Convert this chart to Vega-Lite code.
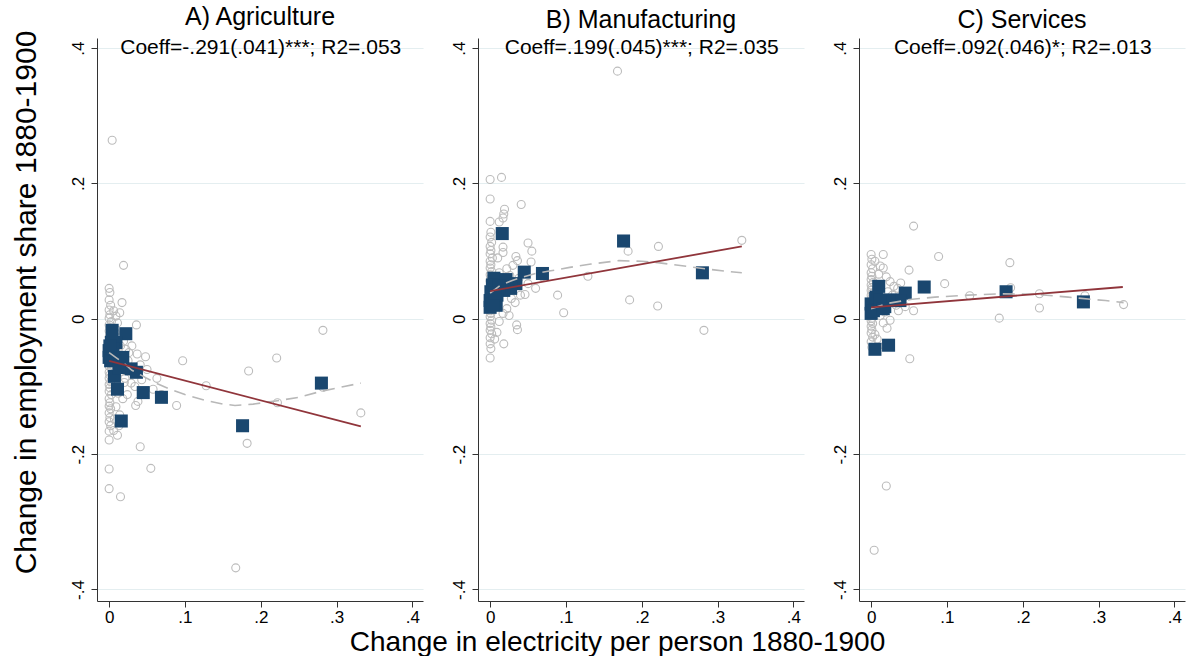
{
  "$schema": "https://vega.github.io/schema/vega-lite/v6.json",
  "padding": {"left": 10, "top": 5, "right": 2, "bottom": 0},
  "spacing": 55,
  "bounds": "flush",
  "datasets": {
    "obs": [
      {"sector":"A","x":0,"y":0.045},{"sector":"A","x":0.001,"y":0.039},{"sector":"A","x":0,"y":0.028},{"sector":"A","x":0.002,"y":0.02},{"sector":"A","x":0,"y":0.013},{"sector":"A","x":0.001,"y":0.006},{"sector":"A","x":0,"y":0.001},{"sector":"A","x":0.003,"y":-0.004},{"sector":"A","x":0,"y":-0.009},{"sector":"A","x":0.001,"y":-0.013},{"sector":"A","x":0,"y":-0.018},{"sector":"A","x":0.002,"y":-0.022},{"sector":"A","x":0,"y":-0.027},{"sector":"A","x":0.001,"y":-0.031},{"sector":"A","x":0,"y":-0.035},{"sector":"A","x":0.003,"y":-0.04},{"sector":"A","x":0,"y":-0.043},{"sector":"A","x":0.001,"y":-0.048},{"sector":"A","x":0,"y":-0.053},{"sector":"A","x":0.002,"y":-0.057},{"sector":"A","x":0,"y":-0.061},{"sector":"A","x":0.001,"y":-0.066},{"sector":"A","x":0,"y":-0.07},{"sector":"A","x":0.003,"y":-0.074},{"sector":"A","x":0,"y":-0.079},{"sector":"A","x":0.001,"y":-0.083},{"sector":"A","x":0,"y":-0.088},{"sector":"A","x":0.002,"y":-0.093},{"sector":"A","x":0,"y":-0.097},{"sector":"A","x":0.001,"y":-0.102},{"sector":"A","x":0,"y":-0.107},{"sector":"A","x":0.003,"y":-0.112},{"sector":"A","x":0,"y":-0.118},{"sector":"A","x":0.001,"y":-0.124},{"sector":"A","x":0,"y":-0.129},{"sector":"A","x":0.002,"y":-0.133},{"sector":"A","x":0,"y":-0.139},{"sector":"A","x":0.001,"y":-0.146},{"sector":"A","x":0,"y":-0.152},{"sector":"A","x":0.002,"y":-0.158},{"sector":"A","x":0,"y":-0.166},
      {"sector":"A","x":0.006,"y":0.012},{"sector":"A","x":0.009,"y":0.004},{"sector":"A","x":0.014,"y":0.009},{"sector":"A","x":0.011,"y":-0.006},{"sector":"A","x":0.017,"y":0.024},{"sector":"A","x":0.019,"y":0.079},{"sector":"A","x":0.004,"y":0.264},{"sector":"A","x":0.008,"y":-0.02},{"sector":"A","x":0.012,"y":-0.028},{"sector":"A","x":0.015,"y":-0.04},{"sector":"A","x":0.019,"y":-0.033},{"sector":"A","x":0.022,"y":-0.045},{"sector":"A","x":0.026,"y":-0.05},{"sector":"A","x":0.036,"y":-0.009},{"sector":"A","x":0.03,"y":-0.04},{"sector":"A","x":0.037,"y":-0.052},{"sector":"A","x":0.048,"y":-0.056},{"sector":"A","x":0.041,"y":-0.068},{"sector":"A","x":0.025,"y":-0.062},{"sector":"A","x":0.01,"y":-0.066},{"sector":"A","x":0.016,"y":-0.078},{"sector":"A","x":0.021,"y":-0.088},{"sector":"A","x":0.029,"y":-0.095},{"sector":"A","x":0.02,"y":-0.094},{"sector":"A","x":0.034,"y":-0.1},{"sector":"A","x":0.043,"y":-0.09},{"sector":"A","x":0.05,"y":-0.075},{"sector":"A","x":0.012,"y":-0.11},{"sector":"A","x":0.018,"y":-0.118},{"sector":"A","x":0.024,"y":-0.112},{"sector":"A","x":0.035,"y":-0.128},{"sector":"A","x":0.038,"y":-0.122},{"sector":"A","x":0.009,"y":-0.13},{"sector":"A","x":0.014,"y":-0.142},{"sector":"A","x":0.007,"y":-0.148},{"sector":"A","x":0.013,"y":-0.158},{"sector":"A","x":0.011,"y":-0.172},{"sector":"A","x":0.006,"y":-0.165},{"sector":"A","x":0.041,"y":-0.189},{"sector":"A","x":0.055,"y":-0.221},{"sector":"A","x":0.015,"y":-0.263},{"sector":"A","x":0,"y":-0.251},{"sector":"A","x":0,"y":-0.222},{"sector":"A","x":0,"y":-0.179},{"sector":"A","x":0.097,"y":-0.062},{"sector":"A","x":0.089,"y":-0.128},{"sector":"A","x":0.128,"y":-0.099},{"sector":"A","x":0.167,"y":-0.368},{"sector":"A","x":0.182,"y":-0.184},{"sector":"A","x":0.184,"y":-0.077},{"sector":"A","x":0.221,"y":-0.058},{"sector":"A","x":0.222,"y":-0.124},{"sector":"A","x":0.282,"y":-0.017},{"sector":"A","x":0.282,"y":-0.101},{"sector":"A","x":0.332,"y":-0.139},{"sector":"A","x":0.058,"y":-0.104},{"sector":"A","x":0.063,"y":-0.088},{"sector":"A","x":0.176,"y":-0.16},{"sector":"A","x":0.069,"y":-0.112},
      {"sector":"B","x":0,"y":0.206},{"sector":"B","x":0,"y":0.177},{"sector":"B","x":0,"y":0.144},{"sector":"B","x":0.001,"y":0.128},{"sector":"B","x":0,"y":0.121},{"sector":"B","x":0.002,"y":0.113},{"sector":"B","x":0,"y":0.107},{"sector":"B","x":0.001,"y":0.101},{"sector":"B","x":0,"y":0.096},{"sector":"B","x":0.003,"y":0.09},{"sector":"B","x":0,"y":0.085},{"sector":"B","x":0.001,"y":0.08},{"sector":"B","x":0,"y":0.075},{"sector":"B","x":0.002,"y":0.07},{"sector":"B","x":0,"y":0.065},{"sector":"B","x":0.001,"y":0.061},{"sector":"B","x":0,"y":0.056},{"sector":"B","x":0.003,"y":0.052},{"sector":"B","x":0,"y":0.047},{"sector":"B","x":0.001,"y":0.043},{"sector":"B","x":0,"y":0.039},{"sector":"B","x":0.002,"y":0.034},{"sector":"B","x":0,"y":0.03},{"sector":"B","x":0.001,"y":0.026},{"sector":"B","x":0,"y":0.021},{"sector":"B","x":0.003,"y":0.017},{"sector":"B","x":0,"y":0.012},{"sector":"B","x":0.001,"y":0.008},{"sector":"B","x":0,"y":0.003},{"sector":"B","x":0.002,"y":-0.002},{"sector":"B","x":0,"y":-0.007},{"sector":"B","x":0.001,"y":-0.012},{"sector":"B","x":0,"y":-0.017},{"sector":"B","x":0.002,"y":-0.022},{"sector":"B","x":0,"y":-0.028},{"sector":"B","x":0,"y":-0.037},{"sector":"B","x":0.001,"y":-0.044},{"sector":"B","x":0,"y":-0.058},
      {"sector":"B","x":0.015,"y":0.209},{"sector":"B","x":0.041,"y":0.169},{"sector":"B","x":0.019,"y":0.162},{"sector":"B","x":0.018,"y":0.155},{"sector":"B","x":0.017,"y":0.149},{"sector":"B","x":0.012,"y":0.143},{"sector":"B","x":0.05,"y":0.112},{"sector":"B","x":0.055,"y":0.1},{"sector":"B","x":0.054,"y":0.084},{"sector":"B","x":0.034,"y":0.092},{"sector":"B","x":0.017,"y":0.106},{"sector":"B","x":0.017,"y":0.098},{"sector":"B","x":0.036,"y":0.086},{"sector":"B","x":0.03,"y":0.079},{"sector":"B","x":0.01,"y":0.09},{"sector":"B","x":0.022,"y":0.074},{"sector":"B","x":0.012,"y":0.068},{"sector":"B","x":0.026,"y":0.064},{"sector":"B","x":0.038,"y":0.06},{"sector":"B","x":0.05,"y":0.052},{"sector":"B","x":0.06,"y":0.045},{"sector":"B","x":0.04,"y":0.035},{"sector":"B","x":0.046,"y":0.036},{"sector":"B","x":0.028,"y":0.03},{"sector":"B","x":0.033,"y":0.024},{"sector":"B","x":0.022,"y":0.015},{"sector":"B","x":0.017,"y":0.008},{"sector":"B","x":0.025,"y":0.005},{"sector":"B","x":0.012,"y":-0.004},{"sector":"B","x":0.035,"y":-0.009},{"sector":"B","x":0.036,"y":-0.016},{"sector":"B","x":0.018,"y":-0.037},{"sector":"B","x":0.009,"y":-0.02},{"sector":"B","x":0.006,"y":-0.03},{"sector":"B","x":0.089,"y":0.035},{"sector":"B","x":0.097,"y":0.009},{"sector":"B","x":0.129,"y":0.063},{"sector":"B","x":0.168,"y":0.366},{"sector":"B","x":0.182,"y":0.1},{"sector":"B","x":0.184,"y":0.028},{"sector":"B","x":0.221,"y":0.019},{"sector":"B","x":0.222,"y":0.107},{"sector":"B","x":0.282,"y":-0.017},{"sector":"B","x":0.28,"y":0.068},{"sector":"B","x":0.332,"y":0.116},{"sector":"B","x":0.176,"y":0.113},{"sector":"B","x":0.069,"y":0.062},{"sector":"B","x":0.045,"y":0.07},
      {"sector":"C","x":0,"y":0.095},{"sector":"C","x":0.001,"y":0.088},{"sector":"C","x":0,"y":0.08},{"sector":"C","x":0.002,"y":0.074},{"sector":"C","x":0,"y":0.068},{"sector":"C","x":0.001,"y":0.063},{"sector":"C","x":0,"y":0.058},{"sector":"C","x":0.003,"y":0.054},{"sector":"C","x":0,"y":0.05},{"sector":"C","x":0.001,"y":0.046},{"sector":"C","x":0,"y":0.042},{"sector":"C","x":0.002,"y":0.038},{"sector":"C","x":0,"y":0.035},{"sector":"C","x":0.001,"y":0.031},{"sector":"C","x":0,"y":0.027},{"sector":"C","x":0.003,"y":0.024},{"sector":"C","x":0,"y":0.02},{"sector":"C","x":0.001,"y":0.016},{"sector":"C","x":0,"y":0.013},{"sector":"C","x":0.002,"y":0.009},{"sector":"C","x":0,"y":0.005},{"sector":"C","x":0.001,"y":0.001},{"sector":"C","x":0,"y":-0.003},{"sector":"C","x":0.002,"y":-0.007},{"sector":"C","x":0,"y":-0.011},{"sector":"C","x":0.001,"y":-0.016},{"sector":"C","x":0,"y":-0.021},{"sector":"C","x":0.002,"y":-0.027},{"sector":"C","x":0,"y":-0.034},{"sector":"C","x":0.001,"y":-0.042},
      {"sector":"C","x":0.016,"y":0.095},{"sector":"C","x":0.005,"y":0.085},{"sector":"C","x":0.012,"y":0.078},{"sector":"C","x":0.016,"y":0.075},{"sector":"C","x":0.02,"y":0.062},{"sector":"C","x":0.01,"y":0.066},{"sector":"C","x":0.025,"y":0.055},{"sector":"C","x":0.03,"y":0.048},{"sector":"C","x":0.035,"y":0.045},{"sector":"C","x":0.039,"y":0.053},{"sector":"C","x":0.05,"y":0.072},{"sector":"C","x":0.022,"y":0.04},{"sector":"C","x":0.028,"y":0.035},{"sector":"C","x":0.042,"y":0.03},{"sector":"C","x":0.033,"y":0.02},{"sector":"C","x":0.036,"y":0.012},{"sector":"C","x":0.045,"y":0.018},{"sector":"C","x":0.018,"y":0.01},{"sector":"C","x":0.012,"y":0.005},{"sector":"C","x":0.025,"y":-0.002},{"sector":"C","x":0.021,"y":-0.014},{"sector":"C","x":0.016,"y":-0.006},{"sector":"C","x":0.005,"y":-0.023},{"sector":"C","x":0.008,"y":-0.03},{"sector":"C","x":0.018,"y":-0.04},{"sector":"C","x":0.02,"y":-0.247},{"sector":"C","x":0.004,"y":-0.342},{"sector":"C","x":0.051,"y":-0.059},{"sector":"C","x":0.056,"y":0.012},{"sector":"C","x":0.056,"y":0.137},{"sector":"C","x":0.089,"y":0.092},{"sector":"C","x":0.097,"y":0.052},{"sector":"C","x":0.13,"y":0.034},{"sector":"C","x":0.169,"y":0.001},{"sector":"C","x":0.183,"y":0.083},{"sector":"C","x":0.184,"y":0.046},{"sector":"C","x":0.222,"y":0.037},{"sector":"C","x":0.222,"y":0.016},{"sector":"C","x":0.282,"y":0.034},{"sector":"C","x":0.333,"y":0.021},{"sector":"C","x":0.07,"y":0.045},{"sector":"C","x":0.178,"y":0.038}
    ],
    "bins": [
      {"sector":"A","x":0.004,"y":-0.017},{"sector":"A","x":0.022,"y":-0.022},{"sector":"A","x":0.003,"y":-0.035},{"sector":"A","x":0.009,"y":-0.035},{"sector":"A","x":0,"y":-0.047},{"sector":"A","x":0,"y":-0.057},{"sector":"A","x":0.002,"y":-0.062},{"sector":"A","x":0.018,"y":-0.057},{"sector":"A","x":0.029,"y":-0.074},{"sector":"A","x":0.036,"y":-0.079},{"sector":"A","x":0.007,"y":-0.085},{"sector":"A","x":0.011,"y":-0.104},{"sector":"A","x":0.045,"y":-0.109},{"sector":"A","x":0.069,"y":-0.116},{"sector":"A","x":0.016,"y":-0.151},{"sector":"A","x":0.176,"y":-0.158},{"sector":"A","x":0.28,"y":-0.095},{"sector":"A","x":0.013,"y":-0.072},{"sector":"A","x":0.005,"y":-0.045},{"sector":"A","x":0.001,"y":-0.04},
      {"sector":"B","x":0.016,"y":0.126},{"sector":"B","x":0.045,"y":0.069},{"sector":"B","x":0.069,"y":0.067},{"sector":"B","x":0.005,"y":0.06},{"sector":"B","x":0.021,"y":0.058},{"sector":"B","x":0.034,"y":0.052},{"sector":"B","x":0.027,"y":0.045},{"sector":"B","x":0.018,"y":0.042},{"sector":"B","x":0.001,"y":0.04},{"sector":"B","x":0,"y":0.027},{"sector":"B","x":0.008,"y":0.02},{"sector":"B","x":0,"y":0.017},{"sector":"B","x":0.003,"y":0.05},{"sector":"B","x":0.009,"y":0.035},{"sector":"B","x":0.176,"y":0.115},{"sector":"B","x":0.28,"y":0.068},{"sector":"B","x":0.002,"y":0.032},{"sector":"B","x":0.012,"y":0.048},{"sector":"B","x":0.004,"y":0.022},{"sector":"B","x":0.006,"y":0.038},
      {"sector":"C","x":0.01,"y":0.048},{"sector":"C","x":0.07,"y":0.047},{"sector":"C","x":0.045,"y":0.038},{"sector":"C","x":0.178,"y":0.04},{"sector":"C","x":0.28,"y":0.025},{"sector":"C","x":0.006,"y":0.03},{"sector":"C","x":0.029,"y":0.028},{"sector":"C","x":0.038,"y":0.027},{"sector":"C","x":0.018,"y":0.018},{"sector":"C","x":0.001,"y":0.018},{"sector":"C","x":0,"y":0.008},{"sector":"C","x":0,"y":0.022},{"sector":"C","x":0.007,"y":0.032},{"sector":"C","x":0.005,"y":-0.045},{"sector":"C","x":0.023,"y":-0.039},{"sector":"C","x":0.014,"y":0.022},{"sector":"C","x":0.024,"y":0.027},{"sector":"C","x":0.003,"y":0.012},{"sector":"C","x":0.012,"y":0.028},{"sector":"C","x":0.016,"y":0.015}
    ],
    "fit": [
      {"sector":"A","x":0,"y":-0.062},{"sector":"A","x":0.332,"y":-0.159},
      {"sector":"B","x":0,"y":0.041},{"sector":"B","x":0.332,"y":0.107},
      {"sector":"C","x":0,"y":0.017},{"sector":"C","x":0.332,"y":0.047}
    ],
    "curve": [
      {"sector":"A","x":0,"y":-0.05},{"sector":"A","x":0.01,"y":-0.058},{"sector":"A","x":0.02,"y":-0.066},{"sector":"A","x":0.03,"y":-0.076},{"sector":"A","x":0.045,"y":-0.085},{"sector":"A","x":0.06,"y":-0.094},{"sector":"A","x":0.08,"y":-0.104},{"sector":"A","x":0.1,"y":-0.112},{"sector":"A","x":0.125,"y":-0.12},{"sector":"A","x":0.15,"y":-0.126},{"sector":"A","x":0.166,"y":-0.128},{"sector":"A","x":0.19,"y":-0.126},{"sector":"A","x":0.222,"y":-0.121},{"sector":"A","x":0.25,"y":-0.116},{"sector":"A","x":0.28,"y":-0.107},{"sector":"A","x":0.31,"y":-0.1},{"sector":"A","x":0.332,"y":-0.095},
      {"sector":"B","x":0,"y":0.038},{"sector":"B","x":0.014,"y":0.05},{"sector":"B","x":0.03,"y":0.057},{"sector":"B","x":0.044,"y":0.062},{"sector":"B","x":0.06,"y":0.067},{"sector":"B","x":0.08,"y":0.071},{"sector":"B","x":0.105,"y":0.076},{"sector":"B","x":0.133,"y":0.081},{"sector":"B","x":0.17,"y":0.086},{"sector":"B","x":0.2,"y":0.085},{"sector":"B","x":0.221,"y":0.083},{"sector":"B","x":0.256,"y":0.078},{"sector":"B","x":0.29,"y":0.073},{"sector":"B","x":0.313,"y":0.07},{"sector":"B","x":0.332,"y":0.068},
      {"sector":"C","x":0,"y":0.015},{"sector":"C","x":0.023,"y":0.023},{"sector":"C","x":0.054,"y":0.029},{"sector":"C","x":0.084,"y":0.032},{"sector":"C","x":0.128,"y":0.035},{"sector":"C","x":0.17,"y":0.037},{"sector":"C","x":0.22,"y":0.036},{"sector":"C","x":0.26,"y":0.032},{"sector":"C","x":0.309,"y":0.027},{"sector":"C","x":0.333,"y":0.024}
    ],
    "labels": [
      {"sector":"A","coeff":"Coeff=-.291(.041)***; R2=.053"},
      {"sector":"B","coeff":"Coeff=.199(.045)***; R2=.035"},
      {"sector":"C","coeff":"Coeff=.092(.046)*; R2=.013"}
    ]
  },
  "hconcat": [
    {
      "width": 326, "height": 563,
      "title": {"text": "A) Agriculture", "offset": 0},
      "layer": [
        {
          "encoding": {
            "x": {"field":"x","type":"quantitative","scale":{"domain":[-0.016,0.414],"nice":false,"zero":false},
                  "axis":{"values":[0,0.1,0.2,0.3,0.4],"labelExpr":"datum.value == 0 ? '0' : (datum.value < 0 ? '-' : '') + replace(format(abs(datum.value), '.1f'), '0.', '.')","title":null}},
            "y": {"field":"y","type":"quantitative","scale":{"domain":[-0.417,0.415],"nice":false,"zero":false},
                  "axis":{"values":[-0.4,-0.2,0,0.2,0.4],"labelExpr":"datum.value == 0 ? '0' : (datum.value < 0 ? '-' : '') + replace(format(abs(datum.value), '.1f'), '0.', '.')","title":"Change in employment share 1880-1900","titleX":-71,"titleY":264,"titleAlign":"center","titleBaseline":"middle","titleAngle":270}}
          },
          "layer": [
            {"data":{"name":"obs"},"transform":[{"filter":"datum.sector === 'A'"}],"mark":{"type":"point","shape":"circle","filled":false,"color":"#bcbcbc","opacity":1,"strokeWidth":1.1,"size":64}},
            {"data":{"name":"bins"},"transform":[{"filter":"datum.sector === 'A'"}],"mark":{"type":"point","shape":"square","filled":true,"color":"#1a476f","opacity":1,"size":170}},
            {"data":{"name":"curve"},"transform":[{"filter":"datum.sector === 'A'"}],"mark":{"type":"line","color":"#b8b8b8","strokeWidth":1.6,"strokeDash":[12,7]}},
            {"data":{"name":"fit"},"transform":[{"filter":"datum.sector === 'A'"}],"mark":{"type":"line","color":"#90353b","strokeWidth":1.8}}
          ]
        },
        {"data":{"name":"labels"},"transform":[{"filter":"datum.sector === 'A'"}],"mark":{"type":"text","fontSize":21,"align":"center","baseline":"middle","color":"#000"},
         "encoding":{"x":{"datum":0.2,"type":"quantitative"},"y":{"datum":0.4,"type":"quantitative"},"text":{"field":"coeff","type":"nominal"}}}
      ]
    },
    {
      "width": 326, "height": 563,
      "title": {"text": "B) Manufacturing", "offset": 4},
      "layer": [
        {
          "encoding": {
            "x": {"field":"x","type":"quantitative","scale":{"domain":[-0.016,0.414],"nice":false,"zero":false},
                  "axis":{"values":[0,0.1,0.2,0.3,0.4],"labelExpr":"datum.value == 0 ? '0' : (datum.value < 0 ? '-' : '') + replace(format(abs(datum.value), '.1f'), '0.', '.')","title":"Change in electricity per person 1880-1900","titleX":139,"titleY":49,"titleAlign":"center","titleBaseline":"alphabetic"}},
            "y": {"field":"y","type":"quantitative","scale":{"domain":[-0.417,0.415],"nice":false,"zero":false},
                  "axis":{"values":[-0.4,-0.2,0,0.2,0.4],"labelExpr":"datum.value == 0 ? '0' : (datum.value < 0 ? '-' : '') + replace(format(abs(datum.value), '.1f'), '0.', '.')","title":null}}
          },
          "layer": [
            {"data":{"name":"obs"},"transform":[{"filter":"datum.sector === 'B'"}],"mark":{"type":"point","shape":"circle","filled":false,"color":"#bcbcbc","opacity":1,"strokeWidth":1.1,"size":64}},
            {"data":{"name":"bins"},"transform":[{"filter":"datum.sector === 'B'"}],"mark":{"type":"point","shape":"square","filled":true,"color":"#1a476f","opacity":1,"size":170}},
            {"data":{"name":"curve"},"transform":[{"filter":"datum.sector === 'B'"}],"mark":{"type":"line","color":"#b8b8b8","strokeWidth":1.6,"strokeDash":[12,7]}},
            {"data":{"name":"fit"},"transform":[{"filter":"datum.sector === 'B'"}],"mark":{"type":"line","color":"#90353b","strokeWidth":1.8}}
          ]
        },
        {"data":{"name":"labels"},"transform":[{"filter":"datum.sector === 'B'"}],"mark":{"type":"text","fontSize":21,"align":"center","baseline":"middle","color":"#000"},
         "encoding":{"x":{"datum":0.2,"type":"quantitative"},"y":{"datum":0.4,"type":"quantitative"},"text":{"field":"coeff","type":"nominal"}}}
      ]
    },
    {
      "width": 326, "height": 563,
      "title": {"text": "C) Services", "offset": 4},
      "layer": [
        {
          "encoding": {
            "x": {"field":"x","type":"quantitative","scale":{"domain":[-0.016,0.414],"nice":false,"zero":false},
                  "axis":{"values":[0,0.1,0.2,0.3,0.4],"labelExpr":"datum.value == 0 ? '0' : (datum.value < 0 ? '-' : '') + replace(format(abs(datum.value), '.1f'), '0.', '.')","title":null}},
            "y": {"field":"y","type":"quantitative","scale":{"domain":[-0.417,0.415],"nice":false,"zero":false},
                  "axis":{"values":[-0.4,-0.2,0,0.2,0.4],"labelExpr":"datum.value == 0 ? '0' : (datum.value < 0 ? '-' : '') + replace(format(abs(datum.value), '.1f'), '0.', '.')","title":null}}
          },
          "layer": [
            {"data":{"name":"obs"},"transform":[{"filter":"datum.sector === 'C'"}],"mark":{"type":"point","shape":"circle","filled":false,"color":"#bcbcbc","opacity":1,"strokeWidth":1.1,"size":64}},
            {"data":{"name":"bins"},"transform":[{"filter":"datum.sector === 'C'"}],"mark":{"type":"point","shape":"square","filled":true,"color":"#1a476f","opacity":1,"size":170}},
            {"data":{"name":"curve"},"transform":[{"filter":"datum.sector === 'C'"}],"mark":{"type":"line","color":"#b8b8b8","strokeWidth":1.6,"strokeDash":[12,7]}},
            {"data":{"name":"fit"},"transform":[{"filter":"datum.sector === 'C'"}],"mark":{"type":"line","color":"#90353b","strokeWidth":1.8}}
          ]
        },
        {"data":{"name":"labels"},"transform":[{"filter":"datum.sector === 'C'"}],"mark":{"type":"text","fontSize":21,"align":"center","baseline":"middle","color":"#000"},
         "encoding":{"x":{"datum":0.2,"type":"quantitative"},"y":{"datum":0.4,"type":"quantitative"},"text":{"field":"coeff","type":"nominal"}}}
      ]
    }
  ],
  "config": {
    "font": "Liberation Sans",
    "view": {"stroke": null},
    "axis": {"domainColor":"#333333","tickColor":"#333333","labelColor":"#000000","labelFontSize":17,"tickSize":6,"titleFontWeight":"normal","titleColor":"#000000","gridColor":"#e4eef0","gridWidth":1.2,"labelFont":"Liberation Sans","titleFont":"Liberation Sans"},
    "axisX": {"grid": false, "labelPadding": 2, "titleFontSize": 28, "labelFlush": false},
    "axisY": {"grid": true, "labelAngle": 270, "labelAlign": "center", "labelBaseline": "alphabetic", "labelPadding": 8, "titleFontSize": 30},
    "title": {"fontSize": 25, "fontWeight": "normal", "color": "#000000", "baseline": "alphabetic", "font": "Liberation Sans"}
  }
}
